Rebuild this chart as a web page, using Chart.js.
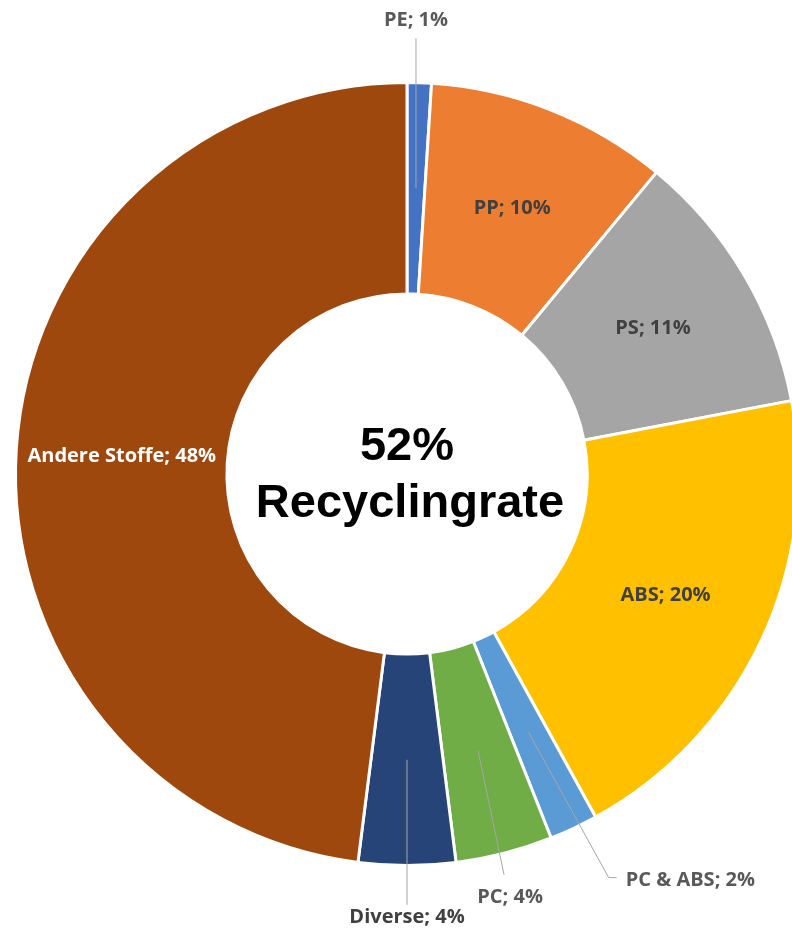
<!DOCTYPE html>
<html>
<head>
<meta charset="utf-8">
<script src="https://cdn.jsdelivr.net/npm/chart.js@4"></script>
<style>
  html, body { margin: 0; padding: 0; background: #fff; overflow: hidden; }
  #wrap { position: absolute; left: 0; top: 0; width: 800px; height: 933px; }
</style>
</head>
<body>
<div id="wrap"><canvas id="donut"></canvas></div>
<script>
// data
var materials = ['PE', 'PP', 'PS', 'ABS', 'PC & ABS', 'PC', 'Diverse', 'Andere Stoffe'];
var shares = [1, 10, 11, 20, 2, 4, 4, 48];
var sliceColors = ['#4472C4', '#ED7D31', '#A5A5A5', '#FFC000', '#5B9BD5', '#70AD47', '#264478', '#9E480E'];
var centerLines = ['52%', 'Recyclingrate'];

// label styling: null = inside the slice, otherwise leader line points + text offset (relative to slice middle)
var labelColors = ['#595959', '#404040', '#404040', '#404040', '#595959', '#595959', '#404040', '#ffffff'];
var callouts = [
  { line: [[0, -150]], text: [0, -168], align: 'center' },
  null,
  null,
  null,
  { line: [[80, 145], [88, 145]], text: [97, 148], align: 'left' },
  { line: [[26, 124]], text: [32, 146], align: 'center' },
  { line: [[0, 145]], text: [0, 158], align: 'center' },
  null
];

var labelPlugin = {
  id: 'sliceLabels',
  afterDatasetsDraw: function (chart) {
    var ctx = chart.ctx;
    var meta = chart.getDatasetMeta(0);
    ctx.save();
    ctx.font = 'bold 20px "Open Sans"';
    ctx.textBaseline = 'middle';
    meta.data.forEach(function (arc, i) {
      var p = arc.getProps(['x', 'y', 'startAngle', 'endAngle', 'innerRadius', 'outerRadius'], true);
      var mid = (p.startAngle + p.endAngle) / 2;
      var r = (p.innerRadius + p.outerRadius) / 2;
      var sx = p.x + Math.cos(mid) * r;
      var sy = p.y + Math.sin(mid) * r;
      var text = materials[i] + '; ' + shares[i] + '%';
      var c = callouts[i];
      ctx.fillStyle = labelColors[i];
      if (!c) {
        ctx.textAlign = 'center';
        ctx.fillText(text, sx, sy);
        return;
      }
      ctx.strokeStyle = '#A6A6A6';
      ctx.lineWidth = 1;
      ctx.beginPath();
      ctx.moveTo(sx, sy);
      c.line.forEach(function (pt) { ctx.lineTo(sx + pt[0], sy + pt[1]); });
      ctx.stroke();
      ctx.textAlign = c.align;
      ctx.fillText(text, sx + c.text[0], sy + c.text[1]);
    });
    ctx.restore();
  }
};

var centerPlugin = {
  id: 'centerText',
  afterDraw: function (chart) {
    var ctx = chart.ctx;
    var arc = chart.getDatasetMeta(0).data[0];
    ctx.save();
    ctx.font = 'bold 47px "Liberation Sans", Arial, sans-serif';
    ctx.fillStyle = '#000';
    ctx.textAlign = 'center';
    ctx.textBaseline = 'alphabetic';
    ctx.fillText(centerLines[0], arc.x, arc.y - 14);
    ctx.fillText(centerLines[1], arc.x + 3, arc.y + 43);
    ctx.restore();
  }
};

document.addEventListener('DOMContentLoaded', function () {
  var ctx = document.getElementById('donut').getContext('2d');
  new Chart(ctx, {
    type: 'doughnut',
    data: {
      labels: materials,
      datasets: [{
        data: shares,
        backgroundColor: sliceColors,
        borderColor: '#ffffff',
        borderWidth: 3
      }]
    },
    options: {
      responsive: true,
      maintainAspectRatio: false,
      animation: false,
      cutout: '46%',
      layout: { padding: { left: 14, right: 0, top: 81, bottom: 66 } },
      plugins: {
        legend: { display: false },
        tooltip: { enabled: false }
      }
    },
    plugins: [labelPlugin, centerPlugin]
  });
});
</script>
</body>
</html>
